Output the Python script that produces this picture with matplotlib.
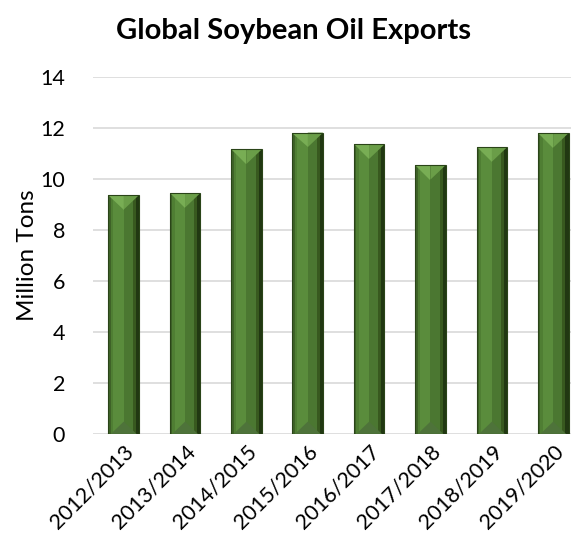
import matplotlib
matplotlib.use("Agg")
import matplotlib.pyplot as plt
from matplotlib.patches import Polygon, Rectangle

categories = ["2012/2013", "2013/2014", "2014/2015", "2015/2016",
              "2016/2017", "2017/2018", "2018/2019", "2019/2020"]
exports = [9.37, 9.45, 11.16, 11.82, 11.36, 10.55, 11.25, 11.8]
yticks = [0, 2, 4, 6, 8, 10, 12, 14]

plt.rcParams['font.family'] = ['Lato', 'DejaVu Sans']

fig = plt.figure(figsize=(5.71, 5.38), dpi=100)
ax = fig.add_axes([93/571, 1-434/538, 1-93/571, (434-77)/538])

W = 0.5
x = list(range(len(categories)))
bars = ax.bar(x, exports, width=W, color="#528238", edgecolor="none", zorder=2)
ax.set_xlim(-0.5, 7.29)
ax.set_ylim(0, 14)

fig.canvas.draw()
p0 = ax.transData.transform((0, 0))
p1 = ax.transData.transform((1, 1))
px_x = p1[0] - p0[0]
px_y = p1[1] - p0[1]
t = (W / 2 * px_x) / px_y * 0.95

for b in bars:
    x0 = b.get_x(); w = b.get_width(); h = b.get_height()
    c = x0 + w / 2
    ax.add_patch(Rectangle((x0, 0), w / 2, h, facecolor="#5a8c3c", edgecolor="none", zorder=3))
    ax.add_patch(Rectangle((c, 0), w / 2, h, facecolor="#4b7731", edgecolor="none", zorder=3))
    ax.add_patch(Rectangle((x0, 0), w * 0.08, h, facecolor="#3e6227", edgecolor="none", zorder=4))
    ax.add_patch(Rectangle((x0 + w * 0.08, 0), w * 0.08, h, facecolor="#4f7e33", edgecolor="none", zorder=4))
    ax.add_patch(Rectangle((x0 + w * 0.80, 0), w * 0.10, h, facecolor="#38591f", edgecolor="none", zorder=4))
    ax.add_patch(Rectangle((x0 + w * 0.90, 0), w * 0.10, h, facecolor="#213812", edgecolor="none", zorder=4))
    ax.add_patch(Polygon([(x0, h), (c, h), (c, h - t)], closed=True,
                         facecolor="#78ad54", edgecolor="none", zorder=5))
    ax.add_patch(Polygon([(c, h), (x0 + w, h), (c, h - t)], closed=True,
                         facecolor="#6a9d48", edgecolor="none", zorder=5))
    ax.add_patch(Polygon([(x0 + w * 0.08, 0), (x0 + w * 0.92, 0), (c, t * 0.85)], closed=True,
                         facecolor="#4e733a", edgecolor="none", zorder=5))
    ax.add_patch(Rectangle((x0, 0), w, h, facecolor="none", edgecolor="#2a4418",
                           linewidth=0.8, zorder=6))

ax.set_yticks(yticks)
ax.set_yticklabels([str(v) for v in yticks], fontsize=15.5)
ax.yaxis.grid(True, color="#d9d9d9", linewidth=1.2, zorder=0)
ax.set_axisbelow(True)
ax.tick_params(axis='y', length=0, pad=20)
ax.tick_params(axis='x', length=0, pad=5)
ax.set_xticks(x)
ax.set_xticklabels(categories, rotation=45, ha='right', rotation_mode='anchor', fontsize=15.5)
for s in ax.spines.values():
    s.set_visible(False)
ax.set_ylabel("Million Tons", fontsize=17.5, labelpad=2)

fig.text(293/571, 1-31/538, "Global Soybean Oil Exports", ha='center', va='center',
         fontsize=21, fontweight='bold')

fig.savefig("out.png", dpi=100)
